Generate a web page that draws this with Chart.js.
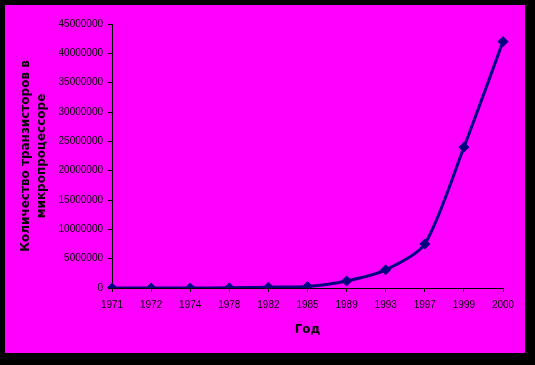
<!DOCTYPE html>
<html>
<head>
<meta charset="utf-8">
<script src="https://cdn.jsdelivr.net/npm/chart.js@4/dist/chart.umd.min.js"></script>
<style>
  html, body { margin: 0; padding: 0; background: #000; }
  #wrap { width: 535px; height: 365px; }
</style>
</head>
<body>
<div id="wrap"><canvas id="chipChart" width="535" height="365"></canvas></div>
<script>
// Transistor count data
const years = ['1971', '1972', '1974', '1978', '1982', '1985', '1989', '1993', '1997', '1999', '2000'];
const transistors = [2300, 3500, 6000, 29000, 134000, 275000, 1200000, 3100000, 7500000, 24000000, 42000000];
const yTitle = ['Количество транзисторов в', 'микропроцессоре'];
const xTitle = 'Год';

// Black frame with magenta plot background
const frameBg = {
  id: 'frameBg',
  beforeDraw(chart) {
    const c = chart.ctx;
    c.save();
    c.fillStyle = '#000000';
    c.fillRect(0, 0, chart.width, chart.height);
    c.fillStyle = '#FF00FF';
    c.fillRect(5, 5, 520, 348);
    c.restore();
  }
};

const ctx = document.getElementById('chipChart').getContext('2d');
const chipChart = new Chart(ctx, {
  type: 'line',
  data: {
    labels: years,
    datasets: [{
      data: transistors,
      borderColor: '#000080',
      backgroundColor: '#000080',
      borderWidth: 3,
      pointStyle: 'rectRot',
      pointRadius: 5,
      pointBorderWidth: 1,
      tension: 0.25,
      fill: false
    }]
  },
  plugins: [frameBg],
  options: {
    responsive: false,
    animation: false,
    layout: { padding: { left: 5, top: 24, right: 32, bottom: 12 } },
    plugins: {
      legend: { display: false },
      tooltip: { enabled: false }
    },
    scales: {
      x: {
        offset: false,
        afterFit(scale) { scale.height = 65; },
        grid: {
          drawOnChartArea: false,
          color: '#000',
          tickColor: '#000',
          tickLength: 4
        },
        border: { color: '#000', width: 1 },
        ticks: {
          color: '#000',
          font: { family: 'Liberation Sans', size: 10 },
          maxRotation: 0,
          padding: 7
        },
        title: {
          display: true,
          text: xTitle,
          color: '#000',
          font: { family: 'DejaVu Sans', size: 12, weight: 'bold' },
          padding: { top: 4, bottom: 16 }
        }
      },
      y: {
        min: 0,
        max: 45000000,
        afterFit(scale) { scale.width = 107; },
        grid: {
          drawOnChartArea: false,
          color: '#000',
          tickColor: '#000',
          tickLength: 4
        },
        border: { color: '#000', width: 1 },
        ticks: {
          stepSize: 5000000,
          color: '#000',
          font: { family: 'Liberation Sans', size: 10 },
          padding: 5,
          callback: v => String(v)
        },
        title: {
          display: true,
          text: yTitle,
          color: '#000',
          font: { family: 'DejaVu Sans', size: 12, weight: 'bold', lineHeight: 1.4 },
          padding: { top: 12 }
        }
      }
    }
  }
});
</script>
</body>
</html>
